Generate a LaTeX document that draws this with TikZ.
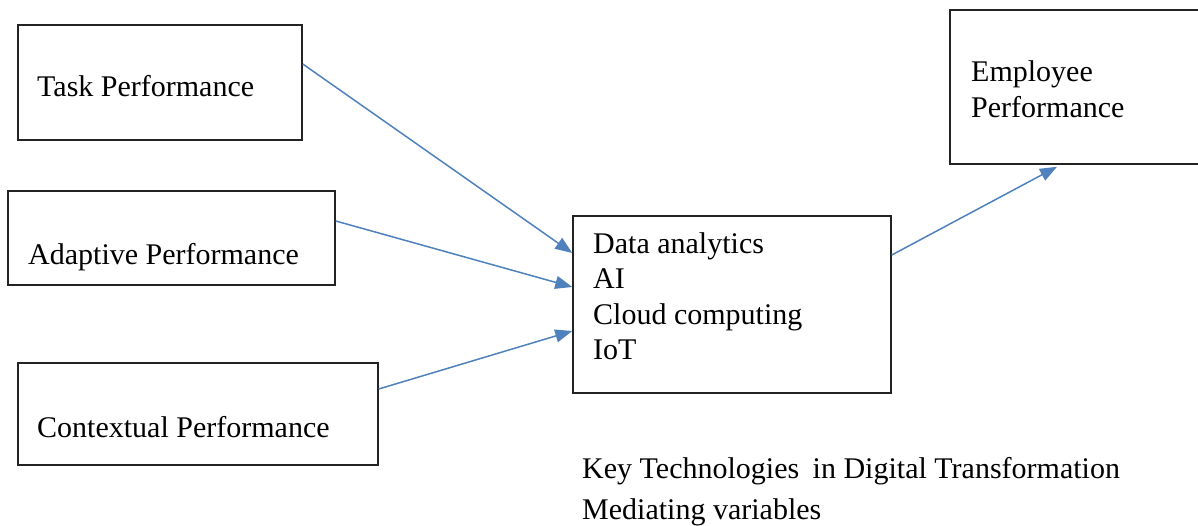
\documentclass[tikz,border=0pt]{standalone}
\usepackage{fontspec}
\setmainfont{Liberation Serif}
\usetikzlibrary{arrows.meta}
\definecolor{arrowblue}{RGB}{79,129,189}
\definecolor{boxline}{RGB}{35,35,35}
\tikzset{
  box/.style={draw=boxline, line width=1.5pt, rectangle, inner sep=0pt},
  lbl/.style={anchor=base west, inner sep=0pt, font=\fontsize{30}{35}\selectfont},
  conn/.style={draw=arrowblue, line width=1.5pt, -{Triangle[length=17pt,width=13pt]}}
}
\begin{document}
\begin{tikzpicture}[x=1pt,y=1pt]
\useasboundingbox (0,0) rectangle (1198,-526);
% boxes
\node[box, minimum width=284pt, minimum height=115pt] (task) at (160,-82.5) {};
\node[box, minimum width=327pt, minimum height=94pt] (adapt) at (171.5,-238) {};
\node[box, minimum width=360pt, minimum height=102pt] (context) at (198,-414) {};
\node[box, minimum width=318pt, minimum height=177pt] (tech) at (732,-304.5) {};
\node[box, minimum width=250pt, minimum height=154pt] (emp) at (1075,-87) {};
% texts
\node[lbl] (tasktxt) at (37,-97) {Task Performance};
\node[lbl] (adapttxt) at (28,-265) {Adaptive Performance};
\node[lbl] (contexttxt) at (37,-437) {Contextual Performance};
\node[lbl] (t1) at (593,-254) {Data analytics};
\node[lbl] (t2) at (593,-289) {AI};
\node[lbl] (t3) at (593,-324) {Cloud computing};
\node[lbl] (t4) at (593,-359) {IoT};
\node[lbl] (emp1) at (971,-82) {Employee};
\node[lbl] (emp2) at (971,-118) {Performance};
\node[lbl] (cap1) at (582,-478) {Key Technologies\hspace{6pt} in Digital Transformation};
\node[lbl] (cap2) at (582,-519) {Mediating variables};
% connectors
\draw[conn] ([yshift=18.5pt]task.east) -- ([yshift=51.5pt]tech.west);
\draw[conn] ([yshift=17pt]adapt.east) -- ([yshift=17.5pt]tech.west);
\draw[conn] ([yshift=25pt]context.east) -- ([yshift=-26.5pt]tech.west);
\draw[conn] ([yshift=49.5pt]tech.east) -- ([xshift=-18pt,yshift=-2pt]emp.south);
\end{tikzpicture}
\end{document}
